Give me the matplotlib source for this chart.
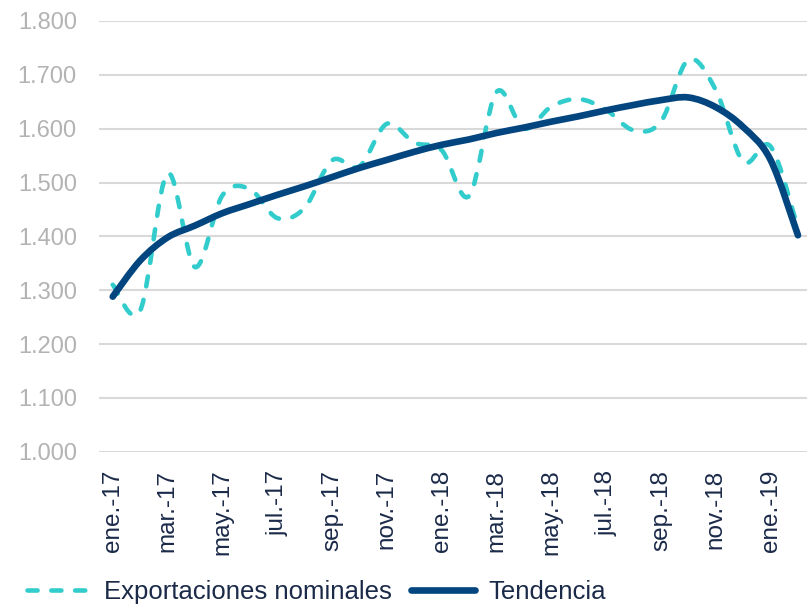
import numpy as np
import matplotlib
matplotlib.use("Agg")
from matplotlib import pyplot as plt
from matplotlib.path import Path
from matplotlib.patches import PathPatch
from matplotlib.lines import Line2D
from matplotlib.ticker import FuncFormatter

# datos (millones)
meses = ["ene.-17", "feb.-17", "mar.-17", "abr.-17", "may.-17", "jun.-17",
         "jul.-17", "ago.-17", "sep.-17", "oct.-17", "nov.-17", "dic.-17",
         "ene.-18", "feb.-18", "mar.-18", "abr.-18", "may.-18", "jun.-18",
         "jul.-18", "ago.-18", "sep.-18", "oct.-18", "nov.-18", "dic.-18",
         "ene.-19", "feb.-19"]

exportaciones = [1310, 1262, 1517, 1343, 1476, 1488, 1434, 1453, 1541, 1530,
                 1609, 1574, 1560, 1475, 1668, 1600, 1641, 1655, 1635, 1597,
                 1613, 1728, 1672, 1539, 1567, 1415]

tendencia = [1288, 1355, 1398, 1420, 1443, 1460, 1477, 1493, 1510, 1527,
             1542, 1557, 1570, 1580, 1592, 1602, 1613, 1623, 1634, 1644,
             1653, 1658, 1640, 1603, 1542, 1402]

COLOR_EXP = "#33CCCC"
COLOR_TEN = "#02457F"
COLOR_TXT = "#1B2A49"

plt.rcParams['font.family'] = ['Liberation Sans', 'DejaVu Sans']


def suavizar(x, y):
    """Path con curvas Bezier (como la linea suavizada de Excel)"""
    pts = np.column_stack([x, y]).astype(float)
    ext = np.vstack([pts[0], pts, pts[-1]])
    verts = [pts[0]]
    codes = [Path.MOVETO]
    for i in range(len(pts) - 1):
        p0, p1, p2, p3 = ext[i], ext[i + 1], ext[i + 2], ext[i + 3]
        c1 = p1 + (p2 - p0) / 6.0
        c2 = p2 - (p3 - p1) / 6.0
        verts += [c1, c2, p2]
        codes += [Path.CURVE4] * 3
    return Path(verts, codes)


fig = plt.figure(figsize=(8.07, 6.05), dpi=100)
ax = fig.add_axes([0.1227, 0.2534, 0.8773, 0.7119])

x = np.arange(len(meses))

dash = (0, (2.2, 3.0))
p1 = PathPatch(suavizar(x, exportaciones), fill=False, edgecolor=COLOR_EXP,
               lw=3.3, linestyle=dash, capstyle='round', zorder=3)
p2 = PathPatch(suavizar(x, tendencia), fill=False, edgecolor=COLOR_TEN,
               lw=4.8, capstyle='round', joinstyle='round', zorder=4)
ax.add_patch(p1)
ax.add_patch(p2)

ax.set_xlim(-0.5, 25.33)
ax.set_ylim(1000, 1800)
ax.set_yticks(np.arange(1000, 1801, 100))
ax.yaxis.set_major_formatter(FuncFormatter(lambda v, p: f"{v/1000:.3f}"))
ax.set_xticks(x[::2])
ax.set_xticklabels(meses[::2], rotation=90, va='top', ha='center')

ax.grid(axis='y', color='#D9D9D9', lw=1.5)
ax.set_axisbelow(True)
for s in ax.spines.values():
    s.set_visible(False)
ax.tick_params(axis='both', length=0)
ax.tick_params(axis='y', labelsize=17, labelcolor='#B3B3B3', pad=16)
ax.tick_params(axis='x', labelsize=17.5, labelcolor=COLOR_TXT, pad=13)

handles = [Line2D([], [], color=COLOR_EXP, lw=3.3, linestyle=dash,
                  dash_capstyle='round'),
           Line2D([], [], color=COLOR_TEN, lw=4.8, solid_capstyle='round')]
fig.legend(handles, ["Exportaciones nominales", "Tendencia"],
           loc='center left', bbox_to_anchor=(27 / 807, 1 - 592 / 605),
           ncol=2, frameon=False, fontsize=18.5, labelcolor=COLOR_TXT,
           handlelength=2.5, handletextpad=0.5, columnspacing=0.75,
           borderpad=0, borderaxespad=0)

fig.savefig("out.png", dpi=100)
